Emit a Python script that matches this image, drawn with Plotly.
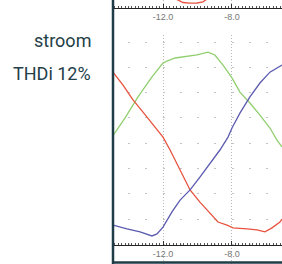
import plotly.graph_objects as go

# time axis (ms) and amplitude (divisions)
green_t = [-14.96, -14.20, -13.45, -12.64, -12.0, -11.77, -11.30, -10.84, -10.03, -9.39,
           -8.99, -8.52, -8.0, -7.54, -6.96, -6.38, -5.80, -5.39, -5.10]
green_v = [0.24, 1.00, 1.83, 2.62, 3.17, 3.25, 3.37, 3.41, 3.49, 3.60,
           3.49, 3.09, 2.58, 2.02, 1.59, 1.11, 0.60, 0.12, -0.15]

red_t = [-14.96, -14.90, -14.32, -13.74, -13.16, -12.46, -12.0, -11.59, -11.01, -10.43,
         -9.86, -9.28, -8.81, -8.29, -7.94, -7.13, -6.55, -6.09, -5.68, -5.22, -5.10]
red_v = [2.90, 2.81, 2.30, 1.71, 1.23, 0.64, 0.24, -0.27, -1.06, -1.85,
         -2.33, -2.76, -3.12, -3.24, -3.35, -3.39, -3.43, -3.51, -3.35, -3.12, -3.00]

blue_t = [-14.96, -14.90, -14.09, -13.33, -12.64, -12.35, -12.0, -11.48, -11.01, -10.43,
          -9.86, -9.28, -8.70, -8.23, -8.0, -7.54, -6.96, -6.38, -5.80, -5.10]
blue_v = [-3.20, -3.24, -3.39, -3.51, -3.67, -3.59, -3.32, -2.72, -2.25, -1.85,
          -1.34, -0.78, -0.27, 0.24, 0.60, 1.19, 1.83, 2.38, 2.81, 3.09]

# upper trace strip (only the trough of the red curve is visible)
top_t = [-11.25, -11.13, -10.84, -10.43, -10.03, -9.68, -9.57, -9.45]
top_v = [9.0, 8.0, 5.5, 4.8, 5.0, 6.2, 8.0, 9.0]

tick_vals = [-12.0, -8.0]
labels = ["stroom", "THDi 12%"]

W, H = 282, 264
x_range = [-14.90, -5.10]
x_dom = [113 / W, 1.0]

fig = go.Figure()
fig.add_trace(go.Scatter(x=green_t, y=green_v, mode="lines",
                         line=dict(color="#90cf6e", width=1.3), xaxis="x", yaxis="y"))
fig.add_trace(go.Scatter(x=red_t, y=red_v, mode="lines",
                         line=dict(color="#e8533f", width=1.3), xaxis="x", yaxis="y"))
fig.add_trace(go.Scatter(x=blue_t, y=blue_v, mode="lines",
                         line=dict(color="#5b5bb0", width=1.3), xaxis="x", yaxis="y"))
fig.add_trace(go.Scatter(x=top_t, y=top_v, mode="lines",
                         line=dict(color="#e8533f", width=1.3), xaxis="x2", yaxis="y2"))

tickfont = dict(family="Liberation Sans, Arial", size=9, color="#777777")
common_x = dict(range=x_range, domain=x_dom, tickvals=tick_vals, ticktext=["-12.0", "-8.0"],
                showline=True, linecolor="#222222", linewidth=1,
                ticks="inside", ticklen=4, tickcolor="#333333", tickfont=tickfont,
                showgrid=True, gridcolor="#b8b8b8", gridwidth=1, griddash="1px,2px",
                zeroline=False,
                minor=dict(dtick=0.2, tick0=-12, ticks="inside", ticklen=2,
                           tickcolor="#555555", showgrid=False))

fig.update_layout(
    width=W, height=H, margin=dict(l=0, r=0, t=0, b=0),
    paper_bgcolor="white", plot_bgcolor="white", showlegend=False,
    xaxis=dict(anchor="free", position=19 / H, **common_x),
    yaxis=dict(domain=[0, (H - 35) / H], range=[-4.78, 4.28],
               dtick=1, tick0=0, showticklabels=False, ticks="",
               showgrid=True, gridcolor="#c4c4c4", gridwidth=1,
               griddash="0px,15px,2px,0.25px",
               zeroline=False, showline=False),
    xaxis2=dict(anchor="y2", **common_x),
    yaxis2=dict(domain=[(H - 8) / H, 1.0], range=[0, 8], showticklabels=False,
                showgrid=False, zeroline=False, showline=False, ticks=""),
)

# panel borders
fig.add_shape(type="line", xref="paper", yref="paper", x0=x_dom[0], x1=x_dom[0], y0=0, y1=1,
              line=dict(color="#1e3d47", width=2.5))
fig.add_shape(type="line", xref="paper", yref="paper", x0=x_dom[0], x1=1, y0=1.5 / H, y1=1.5 / H,
              line=dict(color="#1e3d47", width=2.5))

for txt, yc in zip(labels, [41, 73]):
    fig.add_annotation(text=txt, xref="paper", yref="paper", x=93 / W, y=(H - yc) / H,
                       xanchor="right", yanchor="middle", showarrow=False,
                       font=dict(family="Roboto", size=18, color="#234049"))

fig.write_html("out.html")
